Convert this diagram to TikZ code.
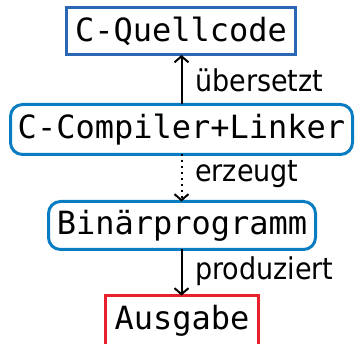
\documentclass[tikz,border=0pt]{standalone}
\usepackage{fontspec}
\setmonofont{DejaVu Sans Mono}
\newfontfamily\labelfont{DejaVu Sans Condensed}
\usetikzlibrary{arrows.meta}
\definecolor{srcblue}{HTML}{2A68B5}
\definecolor{toolblue}{HTML}{0A7CC1}
\definecolor{outred}{HTML}{E8222D}
\begin{document}
\begin{tikzpicture}[x=1pt,y=-1pt,
  stage/.style={draw, line width=3pt, inner sep=0pt, outer sep=0pt,
    font=\ttfamily\fontsize{32}{32}\selectfont},
  filebox/.style={stage, draw=srcblue},
  toolbox/.style={stage, draw=toolblue, rounded corners=12pt},
  resultbox/.style={stage, draw=outred},
  flow/.style={line width=2pt, -{Straight Barb[length=6pt,width=14pt,line width=2pt]}},
  steplabel/.style={anchor=base west, inner sep=0pt,
    font=\labelfont\fontsize{30}{30}\selectfont}]
\clip (0,0) rectangle (356,344);
\useasboundingbox (0,0) rectangle (356,344);
% stages of the build
\node[filebox, minimum width=229pt, minimum height=47pt] (src) at (181,31.5) {C-Quellcode};
\node[toolbox, minimum width=342pt, minimum height=50pt] (cc) at (181.5,129.5) {C-Compiler+Linker};
\node[toolbox, minimum width=267pt, minimum height=48pt] (bin) at (182,225.5) {Binärprogramm};
\node[resultbox, minimum width=153pt, minimum height=50pt] (out) at (182,320.5) {Ausgabe};
% connectors
\draw[flow] (cc.north -| 181.5,0) -- (src.south -| 181.5,0);
\draw[flow, dash pattern=on 2pt off 4pt] (cc.south -| 181.5,0) -- (bin.north -| 181.5,0);
\draw[flow] (bin.south -| 181.5,0) -- (out.north -| 181.5,0);
% step labels
\node[steplabel] (l1) at (195,92) {übersetzt};
\node[steplabel] (l2) at (195,182) {erzeugt};
\node[steplabel] (l3) at (195,280) {produziert};
\end{tikzpicture}
\end{document}
